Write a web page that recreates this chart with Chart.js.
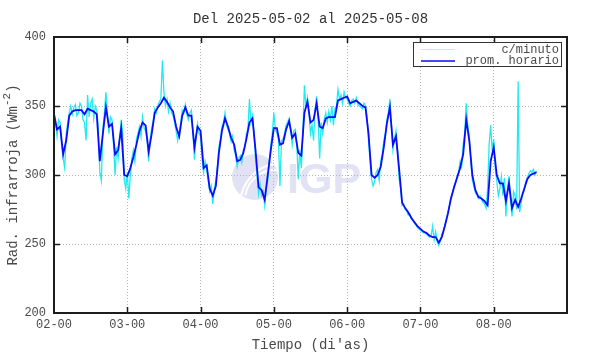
<!DOCTYPE html>
<html>
<head>
<meta charset="utf-8">
<script src="https://cdn.jsdelivr.net/npm/chart.js@4.4.0/dist/chart.umd.min.js"></script>
<style>
  html, body { margin: 0; padding: 0; background: #fff; }
  #wrap { width: 590px; height: 354px; }
</style>
</head>
<body>
<div id="wrap"><canvas id="radChart" width="590" height="354"></canvas></div>
<script>
// etiquetas del eje x (un tick por dia, horas desde 02-00)
const dayLabels = ['02-00', '03-00', '04-00', '05-00', '06-00', '07-00', '08-00'];
const yTicks = [200, 250, 300, 350, 400];

// promedio horario, un valor por hora desde 2025-05-02 00:00
const hourly = [
  344, 333, 335, 315, 325, 343, 346, 347, 347, 347,
  344, 348, 347, 346, 344, 310, 330, 349, 335, 337,
  315, 318, 334, 300, 299, 305, 313, 322, 332, 338,
  336, 317, 330, 345, 349, 352, 356, 353, 349, 346,
  335, 328, 343, 349, 343, 343, 320, 335, 332, 305,
  307, 290, 285, 292, 316, 332, 341, 335, 327, 322,
  310, 311, 316, 326, 338, 341, 318, 291, 289, 282,
  300, 318, 334, 334, 322, 323, 333, 339, 327, 330,
  316, 314, 345, 353, 338, 340, 352, 335, 334, 341,
  342, 342, 342, 354, 355, 356, 357, 352, 353, 354,
  352, 350, 349, 330, 300, 298, 300, 306, 320, 337,
  349, 322, 328, 305, 280, 276, 273, 269, 266, 263,
  261, 259, 258, 256, 255, 255, 251, 255, 263, 272,
  283, 291, 298, 305, 315, 340, 325, 300, 289, 284,
  283, 281, 278, 310, 320, 300, 294, 294, 281, 294,
  276, 282, 277, 283, 290, 297, 300, 301, 302
];

// datos por minuto (muestreados cada 30 min)
const perMinute = [
  346, 338, 328, 340, 338, 322, 312, 305, 330, 338,
  345, 350, 344, 349, 351, 343, 345, 352, 350, 340,
  338, 325, 358, 342, 352, 355, 341, 350, 347, 335,
  302, 296, 333, 345, 360, 345, 330, 342, 340, 322,
  300, 320, 312, 326, 340, 330, 297, 290, 302, 283,
  300, 312, 318, 310, 326, 330, 335, 328, 342, 334,
  332, 325, 310, 326, 334, 340, 348, 345, 350, 353,
  355, 383, 360, 350, 355, 346, 352, 345, 343, 338,
  332, 325, 331, 338, 347, 345, 351, 344, 340, 345,
  347, 330, 311, 328, 337, 330, 328, 312, 302, 310,
  305, 296, 288, 292, 279, 290, 296, 305, 320, 326,
  335, 338, 345, 336, 333, 330, 324, 328, 318, 314,
  306, 312, 314, 309, 318, 320, 330, 333, 355, 338,
  343, 330, 312, 300, 286, 293, 285, 288, 278, 290,
  296, 310, 322, 330, 345, 333, 330, 326, 292, 325,
  326, 330, 336, 338, 341, 333, 322, 332, 333, 322,
  297, 318, 305, 330, 365, 350, 356, 345, 330, 336,
  325, 348, 357, 340, 312, 338, 330, 340, 345, 338,
  346, 340, 350, 336, 348, 350, 362, 355, 358, 352,
  360, 356, 355, 352, 350, 354, 355, 352, 356, 351,
  350, 349, 348, 352, 350, 343, 325, 310, 297, 292,
  295, 302, 304, 296, 310, 315, 325, 330, 340, 345,
  355, 335, 318, 326, 332, 318, 298, 290, 278, 279,
  275, 274, 271, 272, 268, 267, 265, 264, 262, 261,
  260, 259, 258, 258, 257, 256, 255, 256, 263, 253,
  259, 252, 249, 252, 257, 259, 264, 268, 273, 278,
  284, 287, 292, 295, 299, 302, 310, 306, 322, 330,
  352, 336, 328, 310, 296, 292, 287, 286, 283, 285,
  282, 280, 279, 276, 290, 322, 336, 318, 326, 305,
  296, 285, 290, 299, 285, 298, 270, 290, 299, 282,
  270, 288, 285, 275, 368, 273, 280, 287, 289, 295,
  298, 301, 303, 302, 304, 300, 303
];

const MONO = '"Liberation Mono", "DejaVu Sans Mono", monospace';
const TEXT = '#4a4a4a';
const CYAN = '#22eaf0';
const BLUE = '#0a0aff';

// marco, ticks hacia adentro, leyenda, titulo y marca de agua
const decorPlugin = {
  id: 'decor',
  beforeDraw(chart) {
    const ctx = chart.ctx;
    ctx.save();
    // logo IGP de fondo
    ctx.fillStyle = '#e2e2f5';
    ctx.beginPath();
    ctx.arc(255, 177, 23, 0, Math.PI * 2);
    ctx.fill();
    ctx.strokeStyle = '#ffffff';
    ctx.lineWidth = 2;
    ctx.beginPath();
    ctx.arc(275, 200, 30, Math.PI * 1.05, Math.PI * 1.55);
    ctx.stroke();
    ctx.beginPath();
    ctx.arc(282, 205, 42, Math.PI * 1.02, Math.PI * 1.45);
    ctx.stroke();
    ctx.font = 'bold 43px "Liberation Sans", Arial, sans-serif';
    ctx.textBaseline = 'alphabetic';
    ctx.fillText('IGP', 287, 193);
    ctx.restore();
  },
  afterDatasetsDraw(chart) {
    const ctx = chart.ctx;
    const a = chart.chartArea;
    const xs = chart.scales.x, ys = chart.scales.y;
    ctx.save();
    ctx.strokeStyle = '#1c1c1c';
    ctx.lineWidth = 1.5;
    ctx.beginPath();
    for (let i = 1; i < dayLabels.length; i++) {
      const px = Math.round(xs.getPixelForValue(i * 24)) + 0.5;
      ctx.moveTo(px, a.top); ctx.lineTo(px, a.top + 6);
      ctx.moveTo(px, a.bottom); ctx.lineTo(px, a.bottom - 6);
    }
    yTicks.slice(1, -1).forEach(v => {
      const py = Math.round(ys.getPixelForValue(v)) + 0.5;
      ctx.moveTo(a.left, py); ctx.lineTo(a.left + 6, py);
      ctx.moveTo(a.right, py); ctx.lineTo(a.right - 6, py);
    });
    ctx.stroke();
    ctx.lineWidth = 2;
    ctx.strokeRect(a.left, a.top, a.right - a.left, a.bottom - a.top);

    // leyenda
    ctx.fillStyle = '#fff';
    ctx.fillRect(413, 42, 148, 24);
    ctx.strokeStyle = '#333';
    ctx.lineWidth = 1;
    ctx.strokeRect(413.5, 42.5, 148, 24);
    ctx.font = '12px ' + MONO;
    ctx.textAlign = 'right';
    ctx.textBaseline = 'middle';
    ctx.fillStyle = TEXT;
    ctx.strokeStyle = '#a8f6f8';
    ctx.beginPath(); ctx.moveTo(421, 49.5); ctx.lineTo(455, 49.5); ctx.stroke();
    ctx.fillText('c/minuto', 559, 50);
    ctx.strokeStyle = BLUE;
    ctx.lineWidth = 1.5;
    ctx.beginPath(); ctx.moveTo(421, 61); ctx.lineTo(455, 61); ctx.stroke();
    ctx.fillText('prom. horario', 559, 61);
    ctx.restore();
  },
  afterDraw(chart) {
    const ctx = chart.ctx;
    const a = chart.chartArea;
    ctx.save();
    ctx.fillStyle = '#333';
    ctx.font = '14px ' + MONO;
    ctx.textAlign = 'center';
    ctx.textBaseline = 'middle';
    ctx.fillText('Del 2025-05-02 al 2025-05-08', (a.left + a.right) / 2, 19);

    // titulo del eje y con superindice
    const main = 'Rad. infrarroja (Wm';
    const sup = '-2';
    const close = ')';
    ctx.fillStyle = TEXT;
    ctx.translate(13, (a.top + a.bottom) / 2);
    ctx.rotate(-Math.PI / 2);
    ctx.font = '14px ' + MONO;
    const w1 = ctx.measureText(main).width;
    const w3 = ctx.measureText(close).width;
    ctx.font = '11px ' + MONO;
    const w2 = ctx.measureText(sup).width;
    let x0 = -(w1 + w2 + w3) / 2;
    ctx.textAlign = 'left';
    ctx.font = '14px ' + MONO;
    ctx.fillText(main, x0, 0);
    ctx.font = '11px ' + MONO;
    ctx.fillText(sup, x0 + w1, -6);
    ctx.font = '14px ' + MONO;
    ctx.fillText(close, x0 + w1 + w2, 0);
    ctx.restore();
  }
};

new Chart(document.getElementById('radChart').getContext('2d'), {
  type: 'line',
  data: {
    datasets: [
      {
        label: 'prom. horario',
        data: hourly.map((v, i) => ({ x: i, y: v })),
        borderColor: BLUE,
        borderWidth: 1.8,
        pointRadius: 0,
        tension: 0,
        order: 0
      },
      {
        label: 'c/minuto',
        data: perMinute.map((v, i) => ({ x: i / 2, y: v })),
        borderColor: CYAN,
        borderWidth: 1.3,
        pointRadius: 0,
        tension: 0,
        order: 1
      }
    ]
  },
  options: {
    responsive: false,
    animation: false,
    layout: { padding: { left: 0, right: 23, top: 37, bottom: 0 } },
    plugins: {
      legend: { display: false },
      tooltip: { enabled: false }
    },
    scales: {
      x: {
        type: 'linear',
        min: 0,
        max: 168,
        afterFit: s => { s.height = 41; },
        ticks: {
          stepSize: 24,
          autoSkip: false,
          maxRotation: 0,
          padding: 5,
          color: TEXT,
          font: { family: MONO, size: 12 },
          callback: v => dayLabels[v / 24] || ''
        },
        grid: { color: '#b4b4b4', lineWidth: 1, drawTicks: false },
        border: { display: false, dash: [1, 2] },
        title: {
          display: true,
          text: "Tiempo (di'as)",
          color: TEXT,
          font: { family: MONO, size: 14 },
          padding: { top: 0, bottom: 0 }
        }
      },
      y: {
        min: 200,
        max: 400,
        afterFit: s => { s.width = 54; },
        ticks: {
          stepSize: 50,
          padding: 8,
          color: TEXT,
          font: { family: MONO, size: 12 }
        },
        grid: { color: '#b4b4b4', lineWidth: 1, drawTicks: false },
        border: { display: false, dash: [1, 2] }
      }
    }
  },
  plugins: [decorPlugin]
});
</script>
</body>
</html>
